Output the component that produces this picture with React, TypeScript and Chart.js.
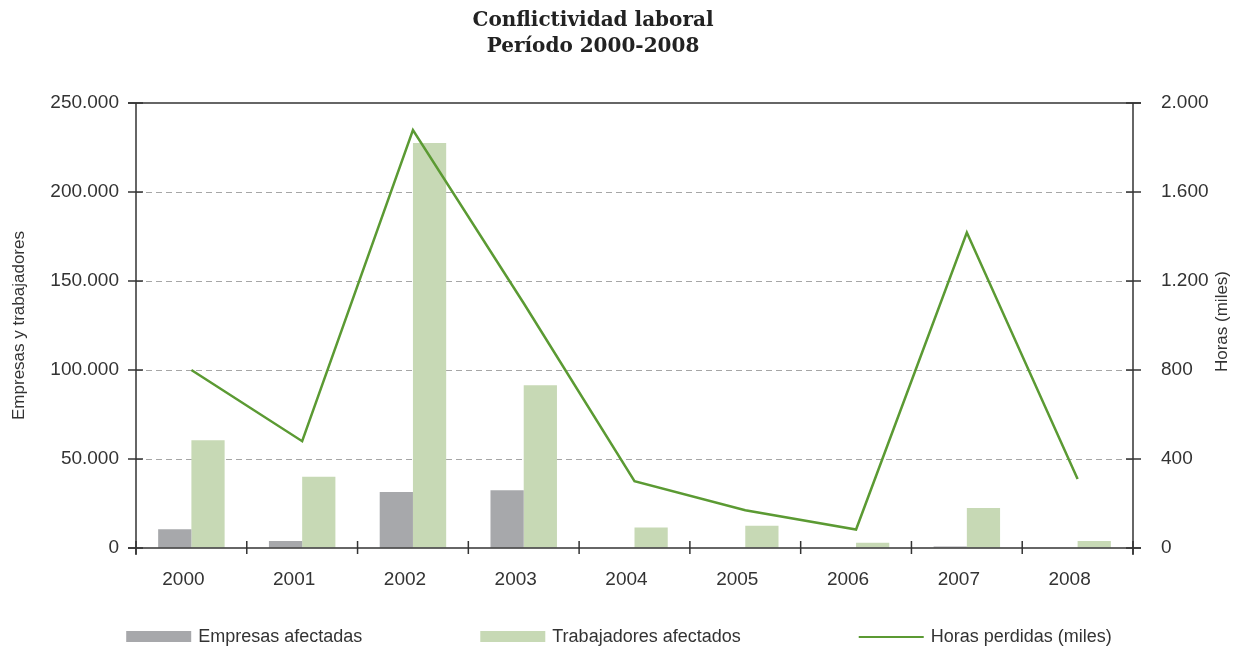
import React, { useEffect, useRef } from "react";
import { Chart, registerables } from "chart.js";

Chart.register(...registerables);

const years = ["2000", "2001", "2002", "2003", "2004", "2005", "2006", "2007", "2008"];
const empresas = [10500, 4000, 31500, 32500, 0, 0, 0, 800, 0];
const trabajadores = [60500, 40000, 227500, 91500, 11500, 12500, 3000, 22500, 4000];
const horas = [800, 480, 1878, 1100, 300, 170, 83, 1418, 310];

const leftMax = 250000;
const leftStep = 50000;
const rightMax = 2000;
const rightStep = 400;

const titleLines = ["Conflictividad laboral", "Período 2000-2008"];
const seriesNames = ["Empresas afectadas", "Trabajadores afectados", "Horas perdidas (miles)"];
const leftTitle = "Empresas y trabajadores";
const rightTitle = "Horas (miles)";

const GRAY = "#a7a8ab";
const GREEN = "#c7d9b5";
const LINE = "#5b9a33";
const AXIS = "#333333";
const TEXT = "#333333";
const TICK_FONT = { family: "'Liberation Sans', Arial, sans-serif", size: 19 };

const fmt = (v: number) => String(Math.round(v)).replace(/\B(?=(\d{3})+(?!\d))/g, ".");

const decorPlugin = {
  id: "decor",
  afterDraw(chart: any) {
    const { ctx, chartArea: a, scales } = chart;
    const line = (x1: number, y1: number, x2: number, y2: number) => {
      ctx.beginPath();
      ctx.moveTo(x1, y1);
      ctx.lineTo(x2, y2);
      ctx.stroke();
    };
    ctx.save();
    ctx.strokeStyle = AXIS;
    ctx.lineWidth = 1.5;
    line(a.left - 8, a.bottom, a.right + 8, a.bottom);
    line(a.left - 8, a.top, a.right + 8, a.top);
    line(a.left, a.top, a.left, a.bottom + 7);
    line(a.right, a.top, a.right, a.bottom + 7);
    scales.y.ticks.forEach((t: any) => {
      const py = scales.y.getPixelForValue(t.value);
      line(a.left - 8, py, a.left + 7, py);
    });
    scales.y1.ticks.forEach((t: any) => {
      const py = scales.y1.getPixelForValue(t.value);
      line(a.right - 7, py, a.right + 8, py);
    });
    const xs = scales.x;
    const half = (xs.getPixelForValue(1) - xs.getPixelForValue(0)) / 2;
    for (let i = 0; i <= years.length; i++) {
      const px = xs.getPixelForValue(i) - half;
      line(px, a.bottom - 7, px, a.bottom + 6);
    }

    // title
    ctx.fillStyle = "#222";
    ctx.textAlign = "center";
    ctx.textBaseline = "middle";
    ctx.font = "bold 20px 'DejaVu Serif', serif";
    ctx.fillText(titleLines[0], 593, 21);
    ctx.fillText(titleLines[1], 593, 47);

    // axis titles
    ctx.font = "17px 'Liberation Sans', Arial, sans-serif";
    ctx.fillStyle = TEXT;
    const midY = (a.top + a.bottom) / 2;
    ctx.save();
    ctx.translate(19, midY);
    ctx.rotate(-Math.PI / 2);
    ctx.fillText(leftTitle, 0, 0);
    ctx.restore();
    ctx.save();
    ctx.translate(1222, midY - 4);
    ctx.rotate(-Math.PI / 2);
    ctx.fillText(rightTitle, 0, 0);
    ctx.restore();

    // legend
    ctx.font = "18px 'Liberation Sans', Arial, sans-serif";
    ctx.textAlign = "left";
    const items = [
      { label: seriesNames[0], kind: "box", color: GRAY },
      { label: seriesNames[1], kind: "box", color: GREEN },
      { label: seriesNames[2], kind: "line", color: LINE },
    ];
    const boxW = 65;
    const textGap = 7;
    const gap = 118;
    const widths = items.map((it) => boxW + textGap + ctx.measureText(it.label).width);
    const total = widths.reduce((s, w) => s + w, 0) + gap * (items.length - 1);
    let x = chart.width / 2 - total / 2;
    const ly = 637;
    items.forEach((it, i) => {
      if (it.kind === "box") {
        ctx.fillStyle = it.color;
        ctx.fillRect(x, ly - 6, boxW, 11);
      } else {
        ctx.strokeStyle = it.color;
        ctx.lineWidth = 2;
        line(x, ly, x + boxW, ly);
      }
      ctx.fillStyle = TEXT;
      ctx.fillText(it.label, x + boxW + textGap, ly);
      x += widths[i] + gap;
    });
    ctx.restore();
  },
};

export default function App() {
  const ref = useRef<HTMLCanvasElement | null>(null);
  useEffect(() => {
    if (!ref.current) return;
    const chart = new Chart(ref.current, {
      type: "bar",
      data: {
        labels: years,
        datasets: [
          {
            type: "line",
            label: seriesNames[2],
            data: horas,
            yAxisID: "y1",
            borderColor: LINE,
            backgroundColor: LINE,
            borderWidth: 2.5,
            pointRadius: 0,
            tension: 0,
            borderJoinStyle: "miter",
            order: 0,
          } as any,
          {
            type: "bar",
            label: seriesNames[0],
            data: empresas,
            yAxisID: "y",
            backgroundColor: GRAY,
            categoryPercentage: 0.6,
            barPercentage: 1,
            order: 1,
          },
          {
            type: "bar",
            label: seriesNames[1],
            data: trabajadores,
            yAxisID: "y",
            backgroundColor: GREEN,
            categoryPercentage: 0.6,
            barPercentage: 1,
            order: 1,
          },
        ],
      },
      options: {
        responsive: false,
        animation: false,
        layout: { padding: { top: 103, bottom: 43, left: 0, right: 0 } },
        plugins: {
          legend: { display: false },
          title: { display: false },
          tooltip: { enabled: false },
        },
        scales: {
          x: {
            offset: true,
            grid: { display: false },
            border: { display: false },
            ticks: { font: TICK_FONT, color: TEXT, padding: 12, labelOffset: -8, maxRotation: 0 },
            afterFit: (s: any) => {
              s.height = 60;
            },
          },
          y: {
            position: "left",
            min: 0,
            max: leftMax,
            ticks: { stepSize: leftStep, callback: (v: any) => fmt(Number(v)), font: TICK_FONT, color: TEXT, padding: 17 },
            grid: {
              drawTicks: false,
              lineWidth: 1,
              color: (c: any) =>
                c.tick && (c.tick.value === 0 || c.tick.value === leftMax) ? "rgba(0,0,0,0)" : "#a6a6a6",
            },
            border: { display: false, dash: [6, 4] },
            afterFit: (s: any) => {
              s.width = 136;
            },
          },
          y1: {
            position: "right",
            min: 0,
            max: rightMax,
            ticks: { stepSize: rightStep, callback: (v: any) => fmt(Number(v)), font: TICK_FONT, color: TEXT, padding: 20 },
            grid: { display: false, drawOnChartArea: false },
            border: { display: false },
            afterFit: (s: any) => {
              s.width = 105;
            },
          },
        },
      } as any,
      plugins: [decorPlugin],
    });
    return () => chart.destroy();
  }, []);
  return (
    <div style={{ position: "absolute", left: 0, top: 0, width: 1238, height: 651, background: "#fff" }}>
      <canvas ref={ref} width={1238} height={651} />
    </div>
  );
}
